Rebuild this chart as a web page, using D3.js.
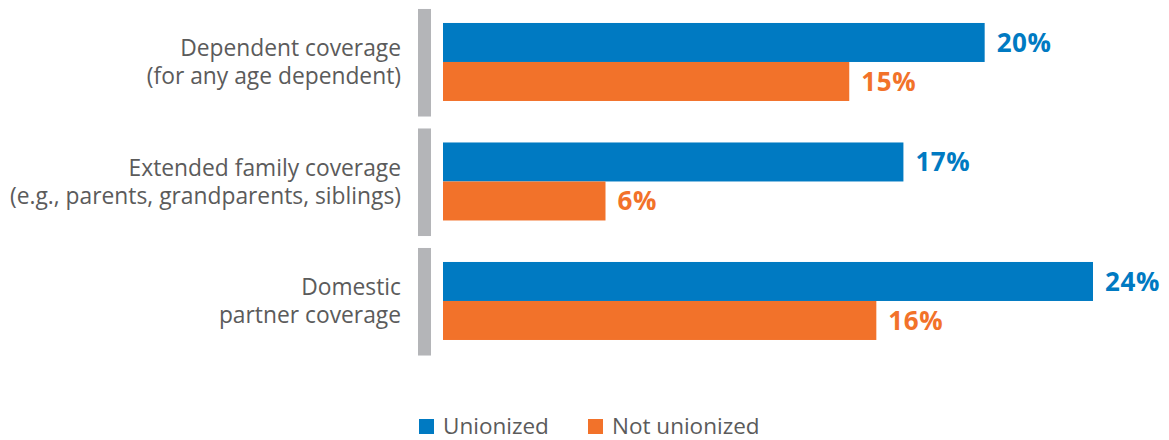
<!DOCTYPE html>
<html><head><meta charset="utf-8">
<script src="https://cdn.jsdelivr.net/npm/d3@7"></script>
<style>body{margin:0;background:#fff}svg{display:block}</style>
</head><body><svg id="c" width="1169" height="440"></svg>
<script>
const categories = [
  ["Dependent coverage", "(for any age dependent)"],
  ["Extended family coverage", "(e.g., parents, grandparents, siblings)"],
  ["Domestic", "partner coverage"]
];
const seriesNames = ["Unionized", "Not unionized"];
const unionized = [20, 17, 24];
const notUnionized = [15, 6, 16];
const colors = ["#007AC2", "#F2722A"];

const svg = d3.select("#c");
const font = "'Open Sans', sans-serif";
const catKeys = categories.map((d,i)=>i);
const y = d3.scaleBand().domain(catKeys).range([3, 361.5]).paddingInner(0.1).paddingOuter(0.05);
const yi = d3.scaleBand().domain(seriesNames).range([14, 92]);
const x = d3.scaleLinear().domain([0, 24]).range([443, 1093]);
const series = [unionized, notUnionized];

// gray separators
svg.selectAll("rect.sep").data(catKeys).join("rect")
  .attr("x", 418).attr("width", 13)
  .attr("y", d=>y(d)).attr("height", y.bandwidth())
  .attr("fill", "#B4B5B8");

// category labels
catKeys.forEach(i=>{
  const cy = y(i) + y.bandwidth()/2;
  const t = svg.append("text").attr("text-anchor","end").attr("fill","#5B5B5B")
    .style("font-family", font).style("font-size","22.8px");
  categories[i].forEach((line,k)=>{
    t.append("tspan").attr("x", 401).attr("y", cy - 14 + k*28 + 7.5).text(line);
  });
});

// bars
series.forEach((vals, s)=>{
  const name = seriesNames[s];
  svg.selectAll("rect.s"+s).data(vals).join("rect")
    .attr("x", x(0)).attr("y", (d,i)=>y(i)+yi(name))
    .attr("width", d=>x(d)-x(0)).attr("height", yi.bandwidth())
    .attr("fill", colors[s]);
  svg.selectAll("text.v"+s).data(vals).join("text")
    .attr("x", d=>x(d)+12).attr("y", (d,i)=>y(i)+yi(name)+yi.bandwidth()/2)
    .attr("dy","0.36em").attr("fill", colors[s])
    .style("font-family", font).style("font-weight","700").style("font-size","26px")
    .style("letter-spacing","0.6px")
    .text(d=>d+"%");
});

// legend
const lg = [{n:seriesNames[0], x:419}, {n:seriesNames[1], x:588}];
lg.forEach((l,i)=>{
  svg.append("rect").attr("x", l.x).attr("y", 419).attr("width", 15).attr("height", 15).attr("fill", colors[i]);
  svg.append("text").attr("x", l.x+24).attr("y", 434).attr("fill","#5B5B5B")
    .style("font-family", font).style("font-size","22.5px").text(l.n);
});
</script></body></html>
